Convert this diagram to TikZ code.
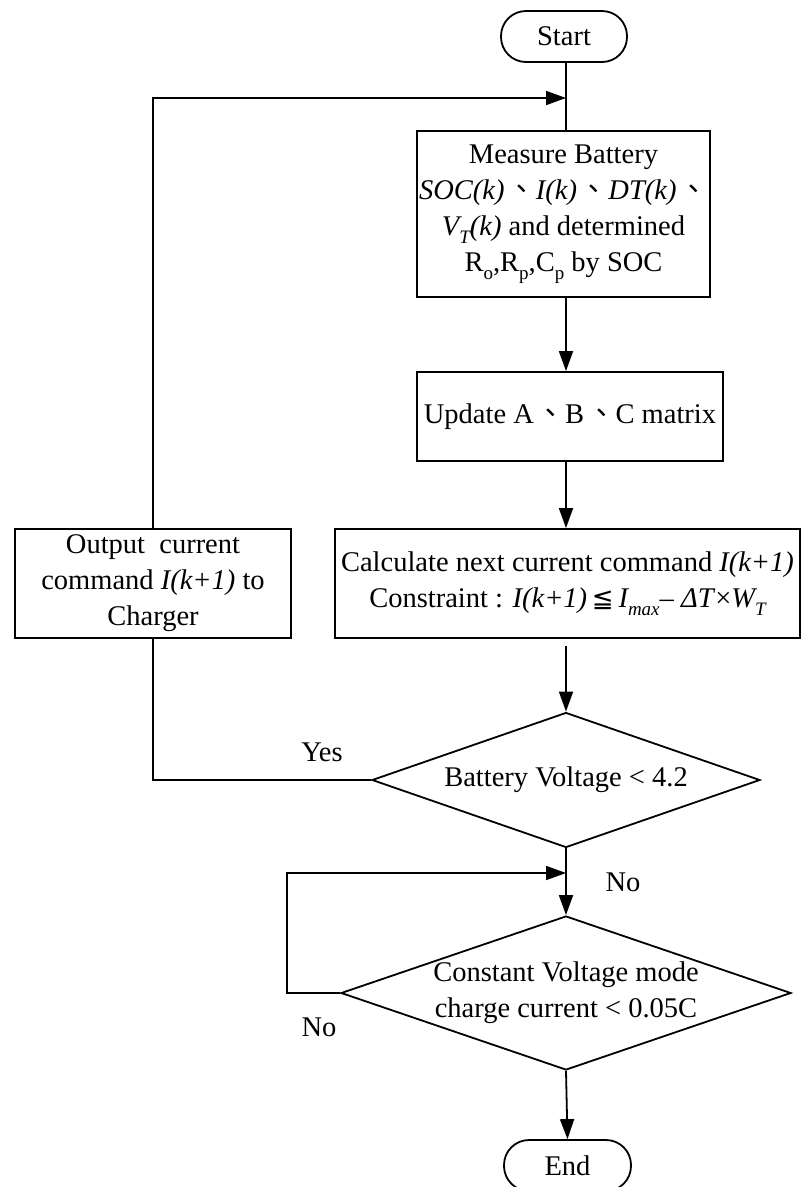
\documentclass[tikz,border=0pt]{standalone}
\usepackage{fontspec}
\setmainfont{Liberation Serif}
\newfontfamily\cjkfont{Noto Sans CJK TC}
\newfontfamily\symfont{DejaVu Sans}
\usetikzlibrary{arrows.meta,shapes.geometric}
\newcommand\lowsub[1]{\raisebox{-0.3em}{\fontsize{19}{19}\selectfont #1}}
\newcommand\dun{\hspace{0.1em}{\cjkfont 、}}
\begin{document}
\begin{tikzpicture}[x=1pt,y=-1pt,
  every node/.style={font=\fontsize{28.5}{36}\selectfont},
  box/.style={draw, line width=1.8pt, rectangle, inner sep=0pt, align=center},
  term/.style={box, rounded corners=25pt},
  dia/.style={draw, line width=1.8pt, diamond, inner sep=0pt},
  conn/.style={line width=1.8pt},
  arr/.style={conn, -{Triangle[length=20pt,width=14pt]}},
  lbl/.style={inner sep=0pt}
]
\useasboundingbox (0,0) rectangle (802,1187);
\clip (0,0) rectangle (802,1187);

\node[term, minimum width=126pt, minimum height=51pt] (start) at (564,36.5) {Start};
\node[box, minimum width=293pt, minimum height=166pt] (measure) at (563.5,214)
  {Measure Battery\\
   \textit{SOC(k)}\dun\textit{I(k)}\dun\textit{DT(k)}\dun\\
   \textit{V\lowsub{T}(k)} and determined\\
   R\lowsub{o},R\lowsub{p},C\lowsub{p} by SOC};
\node[box, minimum width=306pt, minimum height=89pt] (update) at (570,416.5)
  {Update A\dun B\dun C matrix};
\node[box, minimum width=465pt, minimum height=109pt] (calc) at (567.5,583.5)
  {Calculate next current command \textit{I(k+1)}\\
   Constraint : \textit{I(k+1)}\,{\symfont\fontsize{26}{26}\selectfont ≦}\,\textit{I\lowsub{max}}– \textit{ΔT}×\textit{W\lowsub{T}}};
\node[box, minimum width=276pt, minimum height=109pt] (output) at (153,583.5)
  {Output\ \ current\\command \textit{I(k+1)} to\\Charger};
\node[dia, minimum width=388pt, minimum height=135pt,
  label={center:Battery Voltage < 4.2}] (d1) at (566,780) {};
\node[dia, minimum width=450pt, minimum height=154pt,
  label={[align=center]center:Constant Voltage mode\\charge current < 0.05C}] (d2) at (566,993) {};
\node[term, minimum width=127pt, minimum height=51pt] (end) at (567.5,1165.5) {End};

\coordinate (spine) at (566,0);
\coordinate (jtop) at (566,98);
\coordinate (jlow) at (566,873);
\coordinate (lx) at (287,873);

\node[lbl] (yes) at (322,752) {Yes};
\node[lbl] (no1) at (623,882) {No};
\node[lbl] (no2) at (319,1027) {No};

\draw[conn] (start.south -| spine) -- (measure.north -| spine);
\draw[arr] (output.north) |- (jtop);
\draw[arr] (measure.south -| spine) -- (update.north -| spine);
\draw[arr] (update.south -| spine) -- (calc.north -| spine);
\draw[arr, shorten <=7pt] (calc.south -| spine) -- (d1.north);
\draw[conn] (d1.west) -| (output.south);
\draw[arr] (d1.south) -- (d2.north);
\draw[arr] (d2.west) -| (lx) -- (jlow);
\draw[arr] (d2.south) -- (end.north);
\end{tikzpicture}
\end{document}
